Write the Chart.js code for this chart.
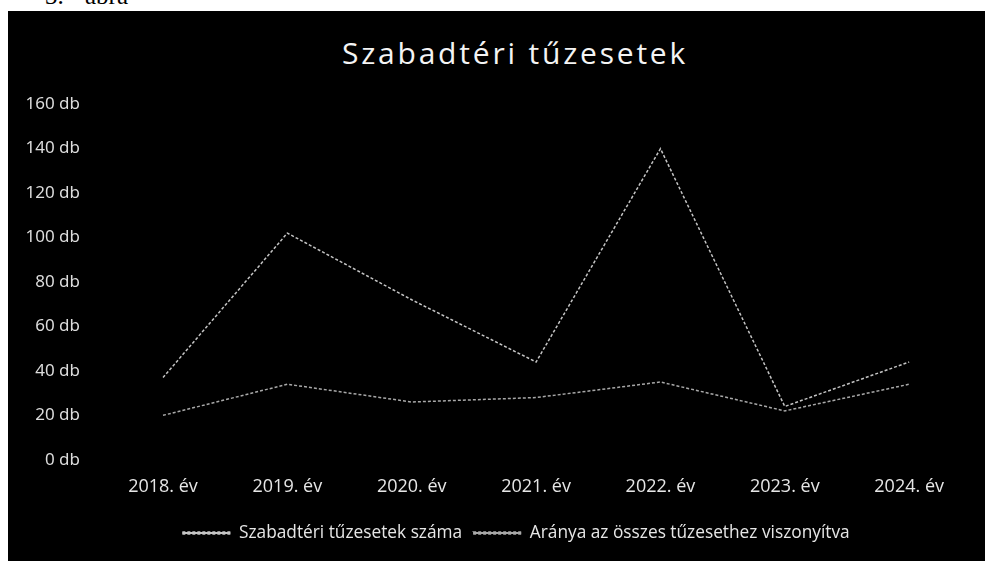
<!DOCTYPE html>
<html>
<head>
<meta charset="utf-8">
<script src="https://cdn.jsdelivr.net/npm/chart.js@4/dist/chart.umd.min.js"></script>
<style>
  body { margin: 0; background: #fff; width: 996px; height: 561px; overflow: hidden; position: relative; }
  .cap { position: absolute; top: -18px; font: 25px "Liberation Serif", serif; color: #000; }
  #box { position: absolute; left: 8px; top: 11px; width: 977px; height: 550px; background: #000; }
  #title { position: absolute; left: 0; width: 1027px; top: 38px; padding-left: 3px; box-sizing: border-box; text-align: center;
           font: 30px/30px "Open Sans", sans-serif; letter-spacing: 2.8px; color: #f4f4f4; }
  #fireChart { position: absolute; left: 8px; top: 11px; }
</style>
</head>
<body>
<span class="cap" style="left:45px">3.</span><span class="cap" style="left:85px">ábra</span>
<div id="box"></div>
<div id="title">Szabadtéri tűzesetek</div>
<canvas id="fireChart" width="952" height="542"></canvas>
<script>
const years = ['2018. év', '2019. év', '2020. év', '2021. év', '2022. év', '2023. év', '2024. év'];
const outdoorFires = [37, 102, 72, 44, 140, 24, 44];
const shareOfAllFires = [20, 34, 26, 28, 35, 22, 34];
const yTicks = [0, 20, 40, 60, 80, 100, 120, 140, 160];

// y labels sit left of the axis box, so stretch the box to the canvas edge (labels are clipped to it)
const widenYAxis = {
    id: 'widenYAxis',
    afterLayout(chart) { chart.scales.y.left = 0; }
};

const ctx = document.getElementById('fireChart').getContext('2d');
new Chart(ctx, {
    type: 'line',
    data: {
        labels: years,
        datasets: [
            { label: 'Szabadtéri tűzesetek száma', data: outdoorFires, borderColor: '#c4c4c4', backgroundColor: '#c4c4c4', borderWidth: 1.5, borderDash: [3, 2], pointRadius: 0, tension: 0 },
            { label: 'Aránya az összes tűzesethez viszonyítva', data: shareOfAllFires, borderColor: '#a8a8a8', backgroundColor: '#a8a8a8', borderWidth: 1.5, borderDash: [3, 2], pointRadius: 0, tension: 0 }
        ]
    },
    options: {
        responsive: false,
        animation: false,
        layout: { padding: { top: 89, right: 35, bottom: 0, left: 99 } },
        plugins: {
            title: { display: false },
            legend: {
                position: 'bottom',
                labels: { color: '#e6e6e6', font: { family: 'Open Sans', size: 17.3 }, boxWidth: 48, boxHeight: 2, padding: 11 }
            },
            tooltip: { enabled: false }
        },
        scales: {
            x: {
                grid: { display: false, drawTicks: false },
                border: { display: false },
                ticks: { color: '#e6e6e6', font: { family: 'Open Sans', size: 18 }, padding: 16, maxRotation: 0, autoSkip: false }
            },
            y: {
                min: 0, max: 160,
                afterBuildTicks: axis => { axis.ticks = yTicks.map(v => ({ value: v })); },
                afterFit: axis => { axis.width = 56; },
                grid: { display: false, drawTicks: false },
                border: { display: false },
                ticks: { color: '#dcdcdc', font: { family: 'Noto Sans', size: 17 }, padding: 83, callback: v => v + ' db' }
            }
        }
    },
    plugins: [widenYAxis]
});
</script>
</body>
</html>
